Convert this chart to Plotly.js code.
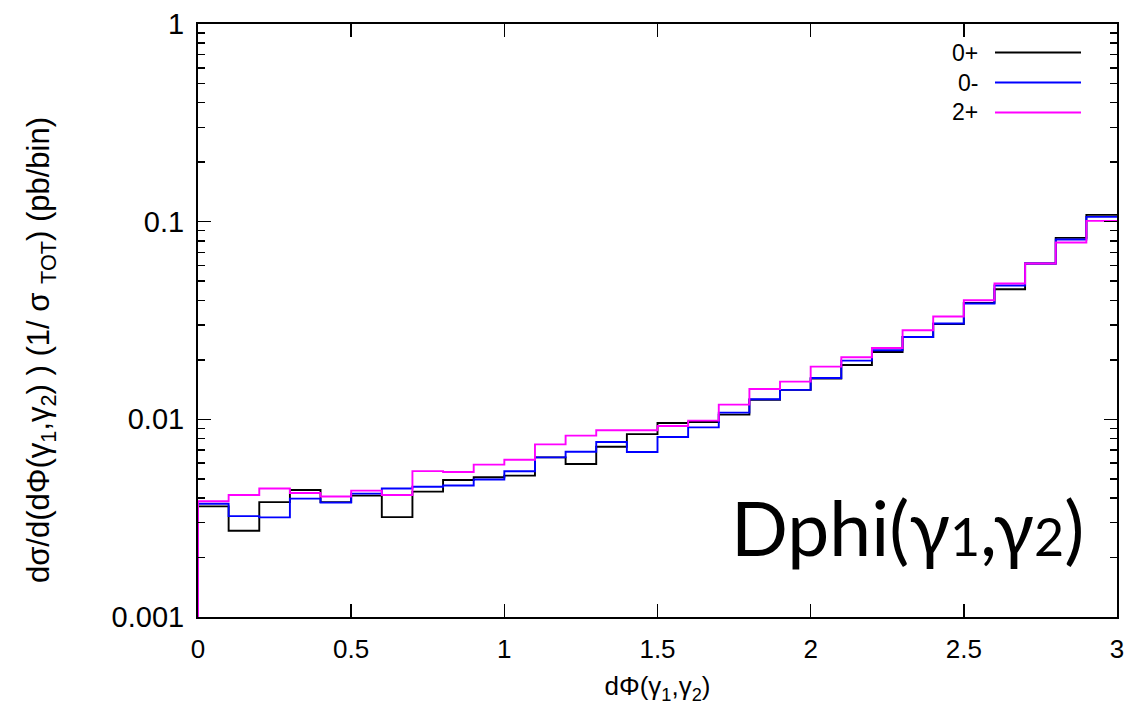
<!DOCTYPE html>
<html>
<head>
<meta charset="utf-8">
<script src="https://cdn.plot.ly/plotly-3.0.1.min.js"></script>
<style>html,body{margin:0;padding:0;background:#fff;}#chart{width:1129px;height:707px;}</style>
</head>
<body>
<div id="chart"></div>
<script>
// bin lower edges (width 0.1) from 0 to 2.9
var binEdges = [0.0,0.1,0.2,0.3,0.4,0.5,0.6,0.7,0.8,0.9,1.0,1.1,1.2,1.3,1.4,1.5,1.6,1.7,1.8,1.9,2.0,2.1,2.2,2.3,2.4,2.5,2.6,2.7,2.8,2.9];
var xMax = 3.0;
var seriesNames = ["0+", "0-", "2+"];
var seriesColors = ["#000000", "#0000ff", "#ff00ff"];
var vals0plus = [0.00363,0.00273,0.00381,0.00439,0.00381,0.00411,0.00320,0.00431,0.00493,0.00509,
                 0.00519,0.00642,0.00594,0.00727,0.00842,0.00958,0.00969,0.01056,0.01256,0.01410,
                 0.01607,0.01883,0.02192,0.02611,0.03038,0.03881,0.04550,0.06143,0.08279,0.10824];
var vals0minus = [0.00374,0.00324,0.00319,0.00397,0.00379,0.00421,0.00447,0.00456,0.00463,0.00496,
                  0.00546,0.00642,0.00686,0.00768,0.00683,0.00814,0.00911,0.01081,0.01263,0.01410,
                  0.01618,0.01982,0.02236,0.02611,0.03052,0.03854,0.04753,0.06143,0.08127,0.10575];
var vals2plus = [0.00385,0.00414,0.00447,0.00424,0.00407,0.00436,0.00414,0.00547,0.00541,0.00590,
                 0.00625,0.00747,0.00827,0.00880,0.00880,0.00925,0.00985,0.01187,0.01423,0.01552,
                 0.01848,0.02060,0.02296,0.02822,0.03311,0.04004,0.04865,0.06143,0.07844,0.10095];
var allVals = [vals0plus, vals0minus, vals2plus];
var yTickVals = [0.001, 0.01, 0.1, 1];
var yTickText = ["0.001", "0.01", "0.1", "1"];
var xTickVals = [0, 0.5, 1, 1.5, 2, 2.5, 3];
var xTickText = ["0", "0.5", "1", "1.5", "2", "2.5", "3"];
var yTitle = 'dσ/d(dΦ(γ<sub>1</sub>,γ<sub>2</sub>) ) (1/ σ <sub>TOT</sub>) (pb/bin)';
var xTitle = 'dΦ(γ<sub>1</sub>,γ<sub>2</sub>)';
var yMin = 0.001, yMax = 1;

var minorVals = [];
[0.001, 0.01, 0.1].forEach(function(d){ for (var k = 2; k <= 9; k++) minorVals.push(d*k); });

var traces = allVals.map(function(v, i){
  var xs = [binEdges[0]].concat(binEdges, [xMax]);
  var ys = [yMin].concat(v, [v[v.length-1]]);
  return {
    x: xs, y: ys, type: 'scatter', mode: 'lines', name: seriesNames[i],
    line: {shape: 'hv', color: seriesColors[i], width: 1.9},
    showlegend: false, hoverinfo: 'skip'
  };
});

var W = 1129, H = 707, L = 198, R = 12, T = 24, B = 90;
var pw = W - L - R, ph = H - T - B;
function px(x){ return (x - L)/pw; }
function py(y){ return 1 - (y - T)/ph; }

var shapes = [], annotations = [];
var legY = [52.5, 82.5, 112.5];
seriesNames.forEach(function(n, i){
  shapes.push({type:'line', xref:'paper', yref:'paper', x0:px(995), x1:px(1081), y0:py(legY[i]), y1:py(legY[i]),
               line:{color:seriesColors[i], width:1.9}});
  annotations.push({xref:'paper', yref:'paper', x:px(980), y:py(legY[i]), text:n, showarrow:false,
                    xanchor:'right', yanchor:'middle', font:{family:'Liberation Sans, Arial', size:23, color:'#000'}});
});
annotations.push({xref:'paper', yref:'paper', x:px(1086), y:py(527),
                  text:'Dphi(γ<span style="font-size:52px">1</span>,γ<span style="font-size:52px">2</span>)',
                  showarrow:false, xanchor:'right', yanchor:'middle',
                  font:{family:'Lato, Open Sans, sans-serif', size:75, color:'#000'}});
annotations.push({xref:'paper', yref:'paper', x:px(41), y:py(350), text:yTitle, textangle:-90,
                  showarrow:false, xanchor:'center', yanchor:'middle',
                  font:{family:'Liberation Sans, Arial', size:31, color:'#000'}});

var layout = {
  width: W, height: H,
  margin: {l: L, r: R, t: T, b: B},
  paper_bgcolor: '#fff', plot_bgcolor: '#fff',
  showlegend: false,
  xaxis: {
    range: [0, 3], showgrid: false, zeroline: false,
    showline: true, linecolor: '#000', linewidth: 2, mirror: 'allticks',
    ticks: 'inside', ticklen: 13, tickwidth: 1.5, tickcolor: '#000',
    tickmode: 'array', tickvals: xTickVals, ticktext: xTickText,
    ticklabelstandoff: 8,
    tickfont: {family: 'Liberation Sans Narrow, Liberation Sans, Arial', size: 26, color: '#000'},
    title: {text: xTitle, standoff: 14,
            font: {family: 'Liberation Sans Narrow, Liberation Sans, Arial', size: 26, color: '#000'}}
  },
  yaxis: {
    type: 'log', range: [-3, 0], showgrid: false, zeroline: false,
    showline: true, linecolor: '#000', linewidth: 2, mirror: 'allticks',
    ticks: 'inside', ticklen: 13, tickwidth: 1.5, tickcolor: '#000',
    tickmode: 'array', tickvals: yTickVals, ticktext: yTickText,
    ticklabelstandoff: 6,
    minor: {tickmode: 'array', tickvals: minorVals, ticks: 'inside', ticklen: 7, tickwidth: 1.5, tickcolor: '#000', showgrid: false},
    tickfont: {family: 'Liberation Sans, Arial', size: 29, color: '#000'}
  },
  shapes: shapes,
  annotations: annotations
};

Plotly.newPlot('chart', traces, layout, {displayModeBar: false, staticPlot: true});
</script>
</body>
</html>
